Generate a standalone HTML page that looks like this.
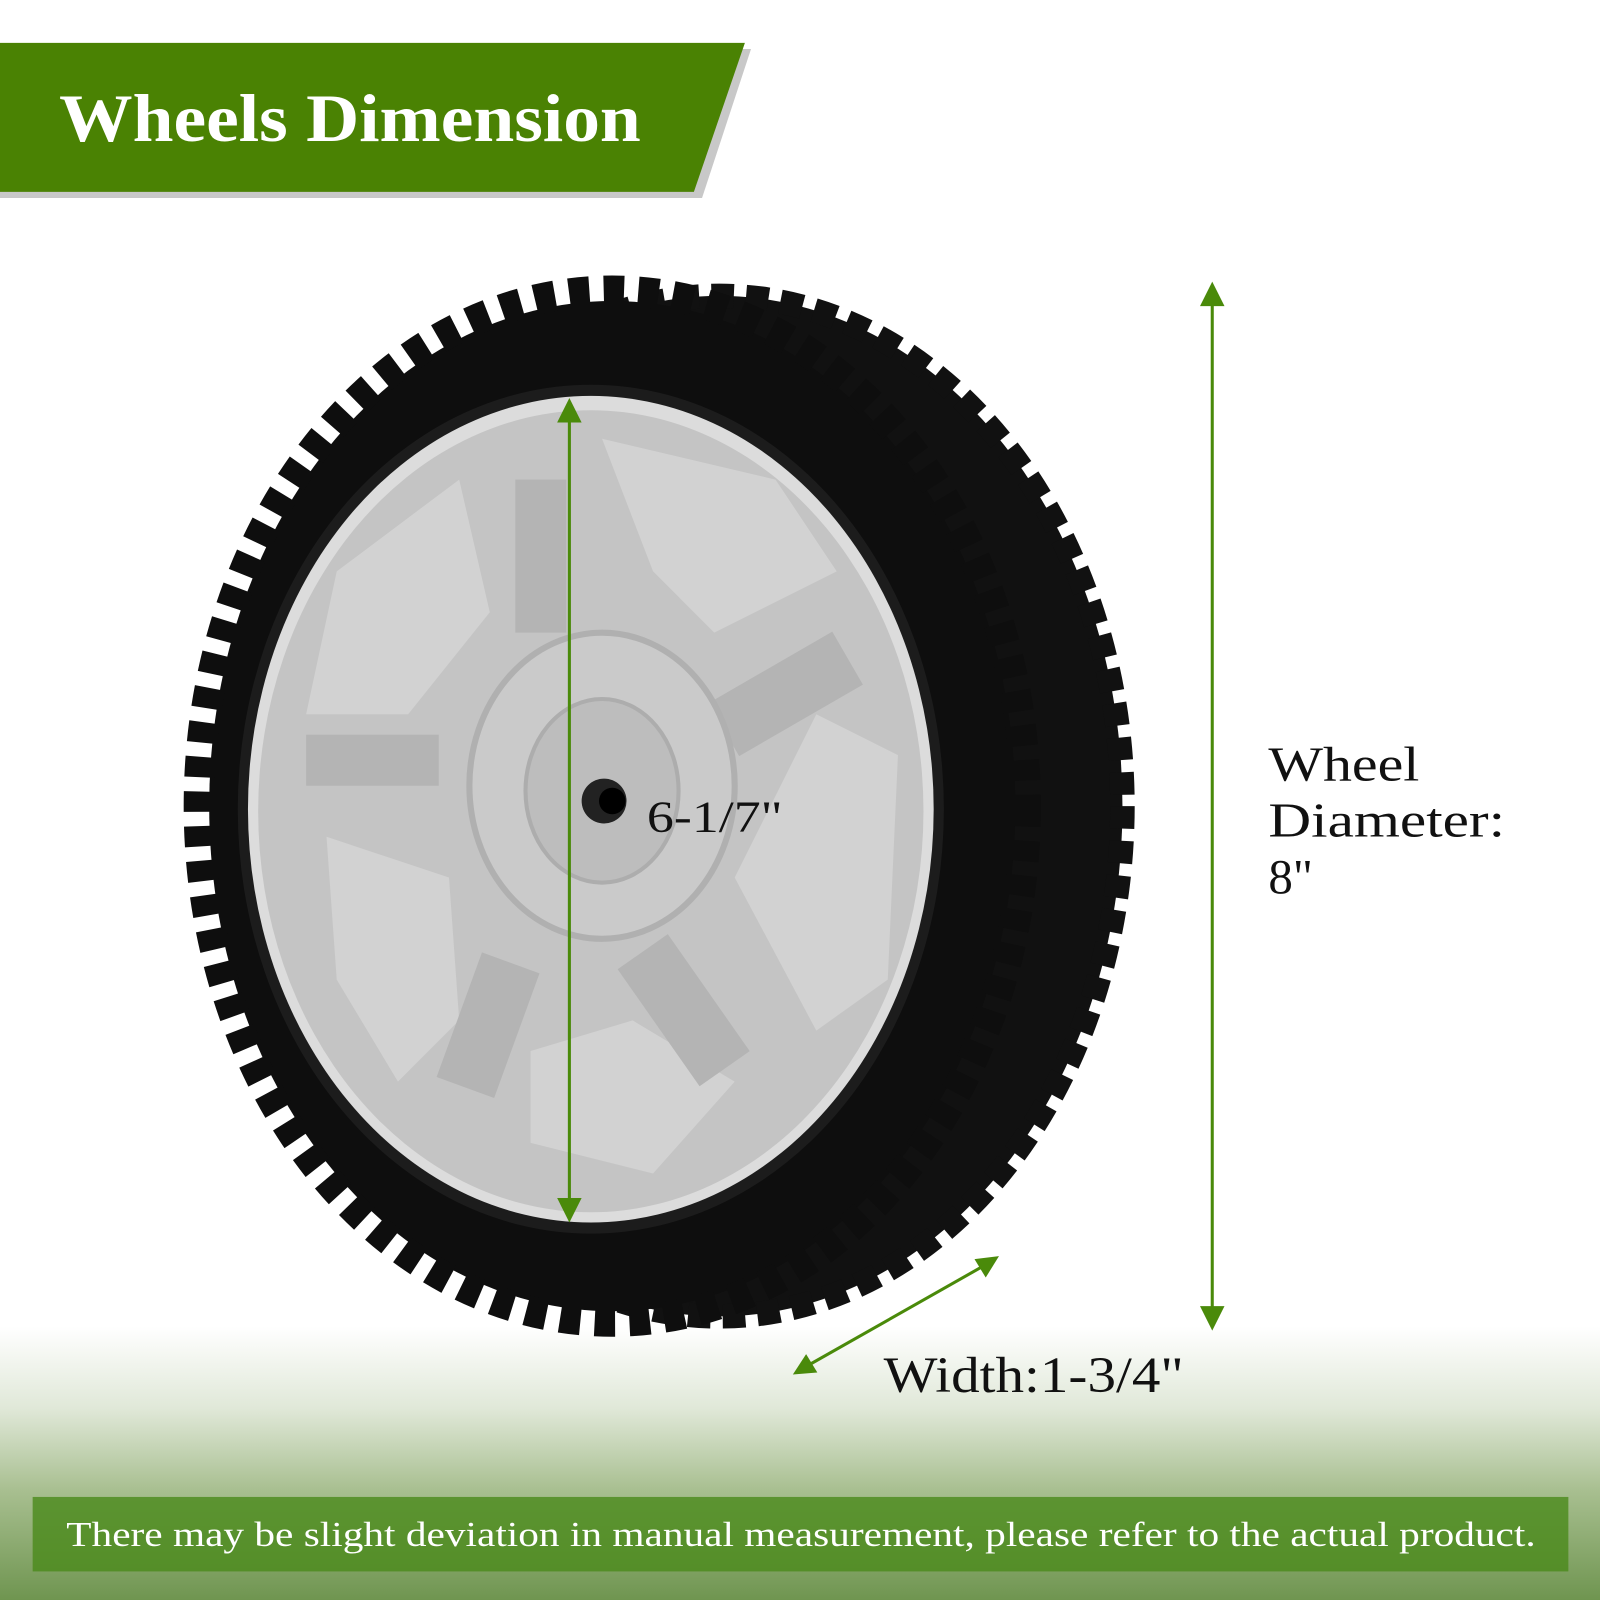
<!DOCTYPE html>
<html><head><meta charset="utf-8"><style>html,body{margin:0;padding:0;background:#fff}svg{display:block}</style></head>
<body>
<svg width="1600" height="1600" viewBox="0 0 1568 1568" xmlns="http://www.w3.org/2000/svg">
<defs>
<linearGradient id="grass" x1="0" y1="0" x2="0" y2="1">
<stop offset="0" stop-color="#fff" stop-opacity="1"/>
<stop offset="0.3" stop-color="#e0e8d8"/>
<stop offset="0.6" stop-color="#a8bf90"/>
<stop offset="1" stop-color="#6f9550"/>
</linearGradient>
<marker id="ah" markerWidth="8" markerHeight="8" refX="7" refY="4" orient="auto" markerUnits="userSpaceOnUse" viewBox="0 0 8 8"><path d="M0,0 L8,4 L0,8 z" fill="#4a8a0a"/></marker>
</defs>
<rect width="1568" height="1568" fill="#fff"/>
<rect x="0" y="1300" width="1568" height="268" fill="url(#grass)"/>
<!-- banner -->
<polygon points="0,48 736,48 688,194 0,194" fill="#c8c8c8"/>
<polygon points="0,42 730,42 680,188 0,188" fill="#4a8203"/>
<text x="58" y="138" font-family="Liberation Serif, serif" font-weight="bold" font-size="66" fill="#fff" textLength="570" lengthAdjust="spacingAndGlyphs">Wheels Dimension</text>
<!-- wheel -->
<ellipse cx="705" cy="790" rx="395" ry="500" fill="#111"/>
<ellipse cx="705" cy="790" rx="395" ry="500" fill="none" stroke="#111" stroke-width="24" stroke-dasharray="22 12"/>
<ellipse cx="600" cy="790" rx="395" ry="495" fill="#0e0e0e"/>
<ellipse cx="600" cy="790" rx="405" ry="505" fill="none" stroke="#0e0e0e" stroke-width="30" stroke-dasharray="20 14"/>
<ellipse cx="579" cy="793" rx="346" ry="416" fill="#1c1c1c"/>
<ellipse cx="579" cy="793" rx="336" ry="405" fill="#dcdcdc"/>
<ellipse cx="579" cy="795" rx="326" ry="393" fill="#c4c4c4"/>
<!-- pockets -->
<g fill="#d2d2d2">
<path d="M590,430 L760,470 L820,560 L700,620 L640,560 Z"/>
<path d="M330,560 L450,470 L480,600 L400,700 L300,700 Z"/>
<path d="M320,820 L440,860 L450,1000 L390,1060 L330,960 Z"/>
<path d="M520,1030 L620,1000 L720,1060 L640,1150 L520,1120 Z"/>
<path d="M720,860 L800,700 L880,740 L870,960 L800,1010 Z"/>
</g>
<g fill="#b4b4b4">
<rect x="505" y="470" width="50" height="150"/>
<rect x="700" y="650" width="140" height="60" transform="rotate(-30 770 680)"/>
<rect x="300" y="720" width="130" height="50"/>
<rect x="450" y="940" width="60" height="130" transform="rotate(20 480 1000)"/>
<rect x="640" y="920" width="60" height="140" transform="rotate(-35 670 990)"/>
</g>
<ellipse cx="590" cy="770" rx="130" ry="150" fill="#cacaca" stroke="#b0b0b0" stroke-width="6"/>
<ellipse cx="590" cy="775" rx="75" ry="90" fill="#bdbdbd" stroke="#adadad" stroke-width="4"/>
<circle cx="592" cy="785" r="22" fill="#222"/>
<circle cx="600" cy="785" r="13" fill="#000"/>
<!-- arrows -->
<g stroke="#4a8a0a" stroke-width="3" fill="none">
<line x1="558" y1="400" x2="558" y2="1188"/>
<line x1="1188" y1="288" x2="1188" y2="1292"/>
<line x1="785" y1="1342" x2="972" y2="1236"/>
</g>
<g stroke="none" fill="#4a8a0a">
<polygon points="558,390 546,414 570,414"/><polygon points="558,1198 546,1174 570,1174"/>
<polygon points="1188,276 1176,300 1200,300"/><polygon points="1188,1304 1176,1280 1200,1280"/>
<polygon points="979,1231 955,1234 966,1252"/><polygon points="777,1347 801,1345 790,1327"/>
</g>
<g font-family="Liberation Serif, serif" fill="#111">
<text x="634" y="815" font-size="44" textLength="133" lengthAdjust="spacingAndGlyphs">6-1/7"</text>
<text x="1243" y="765" font-size="48" textLength="148" lengthAdjust="spacingAndGlyphs">Wheel</text>
<text x="1243" y="820" font-size="48" textLength="232" lengthAdjust="spacingAndGlyphs">Diameter:</text>
<text x="1243" y="875" font-size="48">8"</text>
<text x="866" y="1364" font-size="50" textLength="294" lengthAdjust="spacingAndGlyphs">Width:1-3/4"</text>
</g>
<!-- bottom bar -->
<rect x="32" y="1467" width="1505" height="73" fill="#4a8a1a" opacity="0.8"/>
<text x="65" y="1515" font-family="Liberation Serif, serif" font-size="34" fill="#fff" textLength="1440" lengthAdjust="spacingAndGlyphs">There may be slight deviation in manual measurement, please refer to the actual product.</text>
</svg>
</body></html>
